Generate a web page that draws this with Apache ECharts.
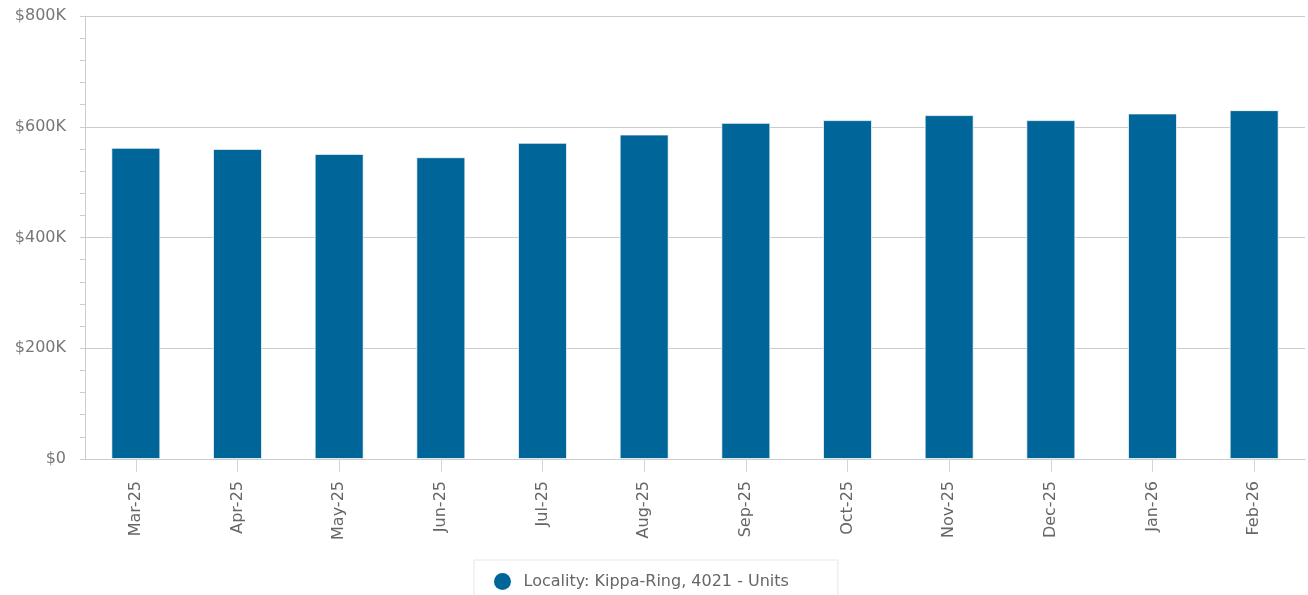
<!DOCTYPE html>
<html>
<head>
<meta charset="utf-8">
<script src="https://cdn.jsdelivr.net/npm/echarts@6/dist/echarts.min.js"></script>
<style>
  html, body { margin: 0; padding: 0; background: #fff; }
  #chart { width: 1308px; height: 595px; }
</style>
</head>
<body>
<div id="chart"></div>
<script>
  // months shown on the x axis
  var months = ['Mar-25', 'Apr-25', 'May-25', 'Jun-25', 'Jul-25', 'Aug-25',
                'Sep-25', 'Oct-25', 'Nov-25', 'Dec-25', 'Jan-26', 'Feb-26'];
  // median value
  var values = [562000, 560000, 551000, 545000, 571000, 586000,
                607000, 612000, 621000, 612000, 624000, 630000];
  var seriesName = 'Locality: Kippa-Ring, 4021 - Units';
  var font = 'DejaVu Sans';

  var myChart = echarts.init(document.getElementById('chart'));

  var option = {
    animation: false,
    grid: {
      left: 85,
      right: 3,
      top: 16,
      bottom: 136
    },
    legend: {
      data: [seriesName],
      left: 474,
      top: 560,
      icon: 'circle',
      itemWidth: 26,
      itemHeight: 17,
      padding: [13, 49, 14, 20],
      borderColor: '#e8e8e8',
      borderWidth: 1,
      itemStyle: { borderWidth: 0 },
      textStyle: { color: '#666', fontSize: 16, fontFamily: font, padding: [0, 0, 0, 3] }
    },
    xAxis: {
      type: 'category',
      data: months,
      axisLine: { show: true, lineStyle: { color: '#ccc' } },
      axisTick: { show: true, alignWithLabel: true, length: 13, lineStyle: { color: '#c9d7ea' } },
      axisLabel: { rotate: 90, margin: 22, color: '#666', fontSize: 16, fontFamily: font }
    },
    yAxis: {
      type: 'value',
      min: 0,
      max: 800000,
      interval: 200000,
      axisLine: { show: true, lineStyle: { color: '#ccc' } },
      axisTick: { show: true, length: 5, lineStyle: { color: '#ccc' } },
      minorTick: { show: true, splitNumber: 5, length: 5, lineStyle: { color: '#ccc' } },
      splitLine: { show: true, lineStyle: { color: '#ccc' } },
      axisLabel: {
        color: '#777',
        fontSize: 16,
        margin: 19,
        fontFamily: font,
        formatter: function (v) { return v === 0 ? '$0' : '$' + (v / 1000) + 'K'; }
      }
    },
    series: [{
      name: seriesName,
      type: 'bar',
      data: values,
      barWidth: 49,
      itemStyle: { color: '#006699', borderColor: 'rgba(255,255,255,0.7)', borderWidth: 1 }
    }]
  };

  myChart.setOption(option);
</script>
</body>
</html>
